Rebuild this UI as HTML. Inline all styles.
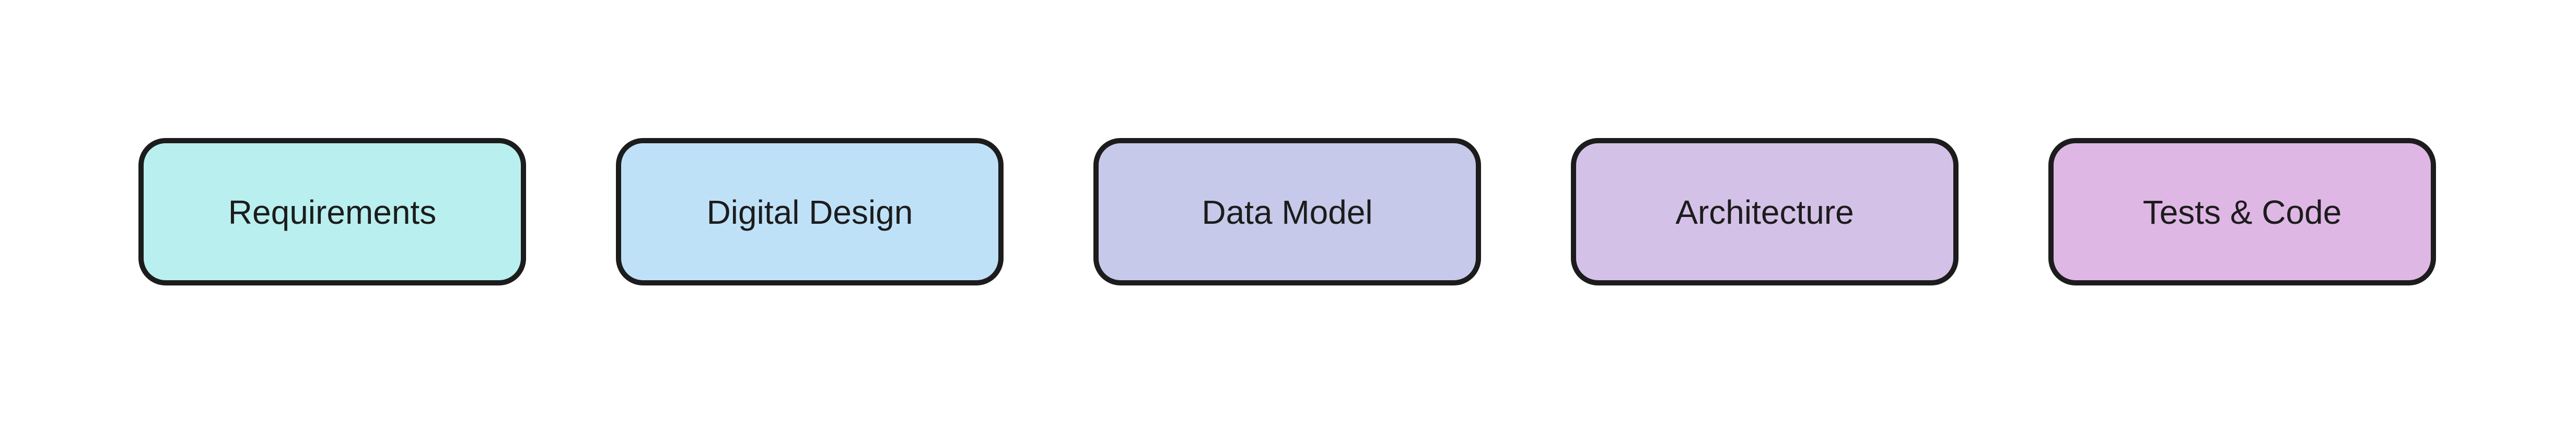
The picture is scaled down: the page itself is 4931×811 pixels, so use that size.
<!DOCTYPE html>
<html><head><meta charset="utf-8"><style>
html,body{margin:0;padding:0;background:#fff;width:4931px;height:811px;overflow:hidden;position:relative}
.b{position:absolute;top:264px;width:722px;height:260px;border:10px solid #1c1c1c;border-radius:52px;display:flex;align-items:center;justify-content:center;font-family:"Liberation Sans",sans-serif;font-size:64px;color:#1c1c1c;padding-top:2px;box-sizing:content-box}
</style></head><body>
<div class="b" style="left:265px;background:#b9efef">Requirements</div>
<div class="b" style="left:1179px;background:#bfe1f8">Digital Design</div>
<div class="b" style="left:2093px;background:#c6c9e9">Data Model</div>
<div class="b" style="left:3007px;background:#d4c1e8">Architecture</div>
<div class="b" style="left:3921px;background:#dfb7e5">Tests &amp; Code</div>
</body></html>
